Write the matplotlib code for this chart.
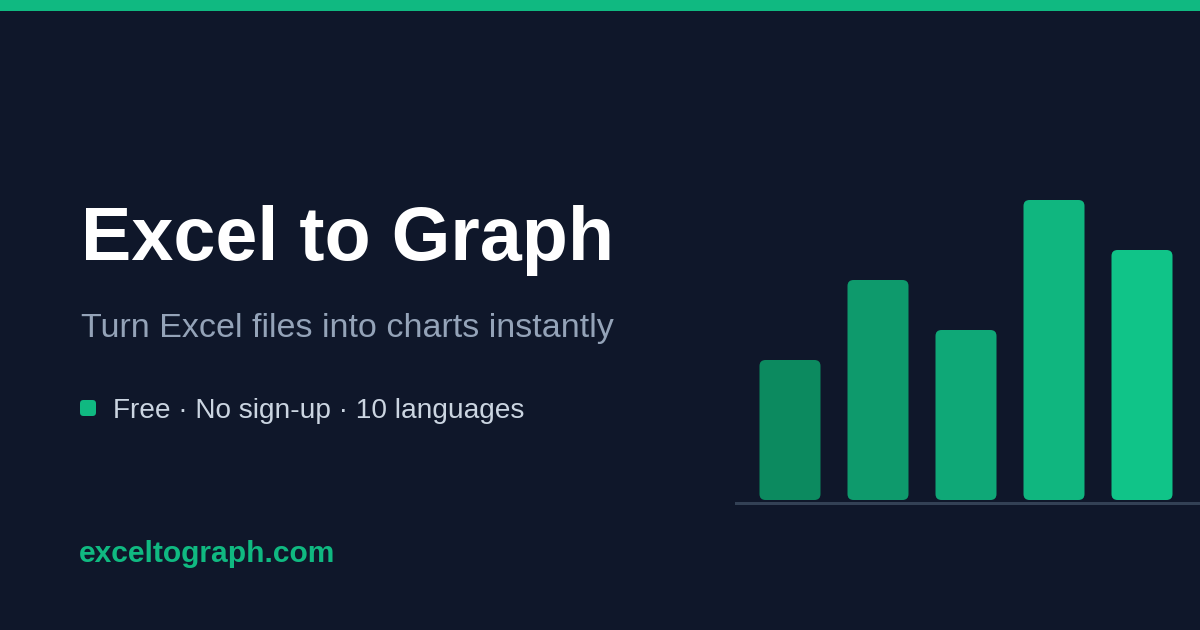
import matplotlib
matplotlib.use("Agg")
import matplotlib.pyplot as plt
from matplotlib.patches import FancyBboxPatch, Rectangle

# chart values (bar heights, arbitrary units) and colours
bar_values = [14, 22, 17, 30, 25]
bar_colors = ['#0c8a5f', '#0e9a6c', '#0fa877', '#10b67f', '#10c488']

title = "Excel to Graph"
subtitle = "Turn Excel files into charts instantly"
features = "Free \u00b7 No sign-up \u00b7 10 languages"
site = "exceltograph.com"

BG = '#0f172a'
GREEN = '#10b981'
W, H = 1200, 630
PX = 72 / 100  # points per pixel at dpi 100

plt.rcParams['font.family'] = ['Liberation Sans', 'DejaVu Sans']

fig = plt.figure(figsize=(W / 100, H / 100), dpi=100, facecolor=BG)

# full-figure axes in pixel coordinates (y down) for the text block
bg = fig.add_axes([0, 0, 1, 1])
bg.set_xlim(0, W)
bg.set_ylim(H, 0)
bg.axis('off')
bg.set_facecolor(BG)

# top accent strip
bg.add_patch(Rectangle((0, 0), W, 11, color=GREEN, lw=0))

bg.text(81, 260, title, color='white', fontsize=75.5 * PX, fontweight='bold', va='baseline')
bg.text(81, 337, subtitle, color='#94a3b8', fontsize=34 * PX, va='baseline')
bg.add_patch(FancyBboxPatch((80, 400), 16, 16, boxstyle="round,pad=0,rounding_size=3.5",
                            color=GREEN, lw=0))
bg.text(113, 418, features, color='#cbd5e1', fontsize=28 * PX, va='baseline')
bg.text(79, 562, site, color=GREEN, fontsize=30 * PX, fontweight='bold', va='baseline')

# bar chart axes: 736..1200 px wide, baseline at y=500 px, 10 px per unit
ax = fig.add_axes([736 / W, (H - 500) / H, 464 / W, 320 / H])
ax.set_facecolor('none')
ax.axis('off')
step = 88.0  # px between bar centres
ax.set_xlim(-54 / step, -54 / step + 464 / step)
ax.set_ylim(0, 32)

width = 61 / step
bars = ax.bar(range(len(bar_values)), bar_values, width=width, color=bar_colors)

# swap plain bars for rounded ones of the same geometry
radius_px = 6
x_per_px = 1 / step
y_per_px = 32 / 320
for b, c in zip(bars, bar_colors):
    b.set_visible(False)
    ax.add_patch(FancyBboxPatch((b.get_x(), b.get_y()), b.get_width(), b.get_height(),
                                boxstyle=f"round,pad=0,rounding_size={radius_px * x_per_px}",
                                mutation_aspect=y_per_px / x_per_px,
                                color=c, lw=0))

ax.axhline(-0.25, color='#334155', lw=3 * PX, clip_on=False)

fig.savefig('out.png', dpi=100, facecolor=BG)
